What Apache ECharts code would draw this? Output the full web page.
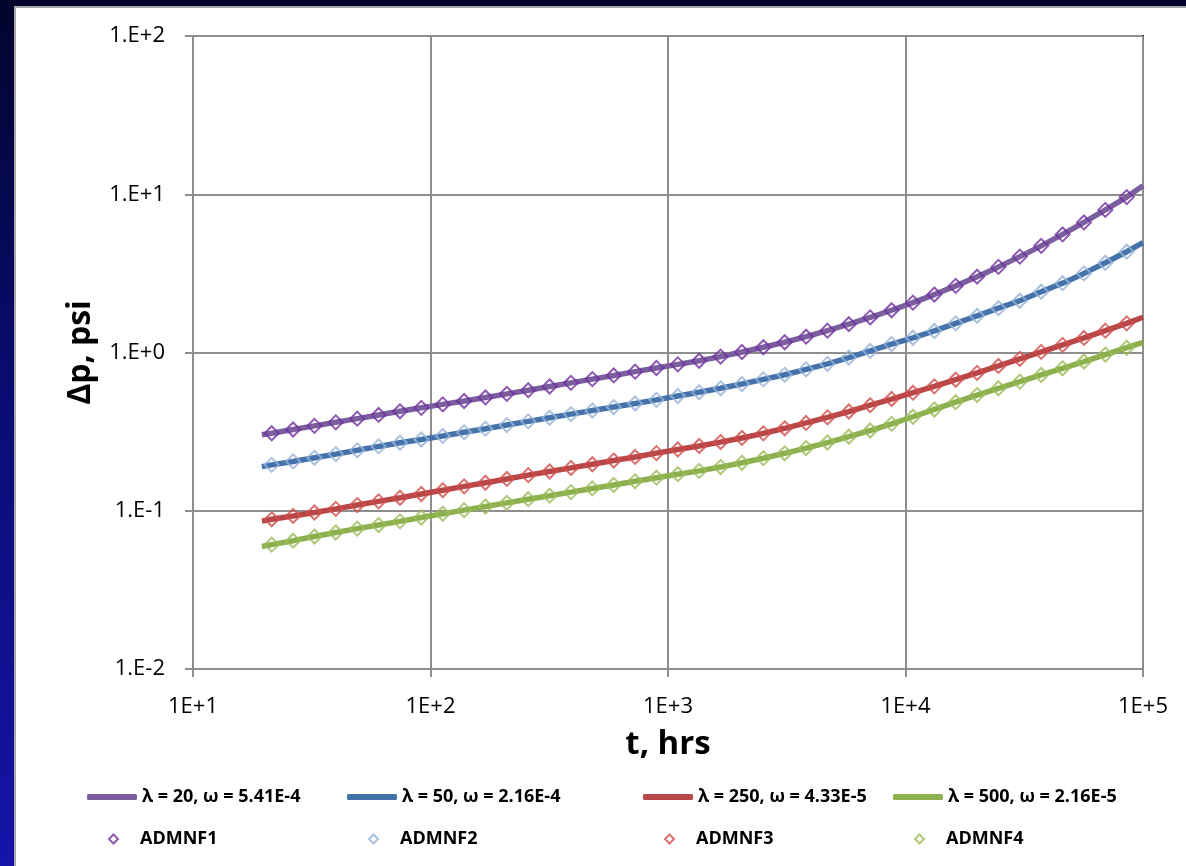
<!DOCTYPE html>
<html>
<head>
<meta charset="utf-8">
<script src="https://cdn.jsdelivr.net/npm/echarts@6/dist/echarts.min.js"></script>
<style>
  html, body { margin: 0; padding: 0; width: 1186px; height: 866px; overflow: hidden; }
  #wrap { position: absolute; left: 0; top: 0; width: 1186px; height: 866px;
          background: linear-gradient(to bottom, #02042c 0%, #0a0c72 45%, #1414a8 100%); }
  #panel { position: absolute; left: 14px; top: 6px; width: 1172px; height: 860px;
           background: #ffffff; border-left: 2px solid #a8a8a8; border-top: 2px solid #a8a8a8; box-sizing: border-box; }
  #chart { position: absolute; left: 0; top: 0; width: 1186px; height: 866px; }
</style>
</head>
<body>
<div id="wrap"><div id="panel"></div><div id="chart"></div></div>
<script>
// ---- data ----
const xTickLabels = ['1E+1', '1E+2', '1E+3', '1E+4', '1E+5'];
const yTickLabels = ['1.E-2', '1.E-1', '1.E+0', '1.E+1', '1.E+2'];

const lineNames = ['λ = 20, ω = 5.41E-4', 'λ = 50, ω = 2.16E-4', 'λ = 250, ω = 4.33E-5', 'λ = 500, ω = 2.16E-5'];
const markerNames = ['ADMNF1', 'ADMNF2', 'ADMNF3', 'ADMNF4'];

// time of each ADMNF point, hrs
const tMarkers = [21.45, 26.39, 32.47, 39.94, 49.14, 60.46, 74.38, 91.51, 112.6, 138.5,
  170.4, 209.6, 257.9, 317.3, 390.3, 480.2, 590.8, 726.8, 894.2, 1100,
  1353, 1665, 2048, 2520, 3100, 3814, 4692, 5773, 7102, 8737,
  10750, 13225, 16270, 20017, 24626, 30296, 37273, 45856, 56415, 69406, 85388];

const admnf1 = [0.309, 0.326, 0.344, 0.362, 0.382, 0.403, 0.425, 0.447, 0.470, 0.494,
  0.520, 0.548, 0.578, 0.610, 0.643, 0.679, 0.716, 0.757, 0.798, 0.841,
  0.887, 0.942, 1.007, 1.079, 1.161, 1.259, 1.374, 1.510, 1.667, 1.849,
  2.065, 2.323, 2.636, 3.013, 3.475, 4.036, 4.721, 5.572, 6.637, 7.962, 9.594];
const admnf2 = [0.195, 0.205, 0.216, 0.228, 0.241, 0.255, 0.269, 0.282, 0.297, 0.313,
  0.330, 0.348, 0.367, 0.387, 0.408, 0.430, 0.452, 0.476, 0.502, 0.531,
  0.561, 0.594, 0.632, 0.676, 0.723, 0.782, 0.847, 0.929, 1.023, 1.130,
  1.239, 1.368, 1.528, 1.706, 1.905, 2.123, 2.421, 2.742, 3.162, 3.690, 4.335];
const admnf3 = [0.0883, 0.0927, 0.0975, 0.1028, 0.1086, 0.1146, 0.1208, 0.1276, 0.1349, 0.1426,
  0.1503, 0.1589, 0.1679, 0.1770, 0.1866, 0.1968, 0.2075, 0.2188, 0.2312, 0.2438,
  0.2564, 0.2716, 0.2884, 0.3083, 0.3319, 0.3589, 0.3890, 0.4236, 0.4645, 0.5082,
  0.5571, 0.6109, 0.6730, 0.7430, 0.8222, 0.9120, 1.009, 1.117, 1.236, 1.374, 1.528];
const admnf4 = [0.0611, 0.0647, 0.0687, 0.0729, 0.0771, 0.0813, 0.0857, 0.0906, 0.0957, 0.1009,
  0.1064, 0.1122, 0.1183, 0.1245, 0.1312, 0.1384, 0.1455, 0.1535, 0.1618, 0.1702,
  0.1786, 0.1888, 0.2009, 0.2148, 0.2307, 0.2489, 0.2698, 0.2938, 0.3214, 0.3540,
  0.3926, 0.4365, 0.4853, 0.5383, 0.5943, 0.6546, 0.7211, 0.7943, 0.8770, 0.9705, 1.072];

// model curves: start and end of each line (the lines run through the ADMNF points)
const tLineStart = 19.5;
const tLineEnd = 100000;
const lineStart = [0.302, 0.190, 0.086, 0.0595];
const lineEnd = [11.3, 4.95, 1.67, 1.16];

// ---- styling ----
const lineColors = ['#7a5e9e', '#4572aa', '#b84747', '#8db04f'];
const markerColors = ['#7030a0', '#95b3d7', '#d24d4b', '#9bbb59'];
const FONT = '"Open Sans", "Liberation Sans", sans-serif';

const markerSets = [admnf1, admnf2, admnf3, admnf4];
const series = [];
lineNames.forEach((name, i) => {
  const data = [[tLineStart, lineStart[i]]];
  tMarkers.forEach((t, k) => data.push([t, markerSets[i][k]]));
  data.push([tLineEnd, lineEnd[i]]);
  series.push({
    name, type: 'line', data, showSymbol: false, symbol: 'none', smooth: false,
    lineStyle: { color: lineColors[i], width: 5.5 }, itemStyle: { color: lineColors[i] },
    z: 2, silent: true, clip: true
  });
});
markerNames.forEach((name, i) => {
  series.push({
    name, type: 'scatter', symbol: 'diamond', symbolSize: 14,
    data: tMarkers.map((t, k) => [t, markerSets[i][k]]),
    itemStyle: { color: 'rgba(255,255,255,0)', borderColor: markerColors[i], borderWidth: 2 },
    z: 3, silent: true
  });
});

const colLeft = [87, 347, 643, 893];
const legends = [];
lineNames.forEach((name, i) => {
  legends.push({
    data: [name], left: colLeft[i], top: 787, padding: 0, selectedMode: false,
    icon: 'roundRect', itemWidth: 50, itemHeight: 6,
    itemStyle: { color: lineColors[i] },
    textStyle: { fontFamily: FONT, fontWeight: 'bold', fontSize: 18, color: '#000', lineHeight: 20 }
  });
});
markerNames.forEach((name, i) => {
  legends.push({
    data: [name], left: colLeft[i] + 21, top: 829, padding: 0, selectedMode: false,
    itemWidth: 9, itemHeight: 9,
    textStyle: { fontFamily: FONT, fontWeight: 'bold', fontSize: 18, color: '#000', lineHeight: 20,
                 padding: [0, 0, 0, 17] }
  });
});

const gridColor = '#8e8e8e';
const chart = echarts.init(document.getElementById('chart'), null, { renderer: 'canvas' });
chart.setOption({
  backgroundColor: 'transparent',
  animation: false,
  grid: { left: 193, top: 36, right: 43, bottom: 197, show: true,
          backgroundColor: '#ffffff', borderColor: '#000', borderWidth: 2 },
  xAxis: {
    type: 'log', logBase: 10, min: 10, max: 100000,
    name: 't, hrs', nameLocation: 'middle', nameGap: 59,
    nameTextStyle: { fontFamily: FONT, fontWeight: 'bold', fontSize: 33, color: '#000' },
    axisLine: { show: true, lineStyle: { color: gridColor, width: 2 } },
    axisTick: { show: true, inside: false, length: 8, lineStyle: { color: gridColor, width: 2 } },
    minorTick: { show: false },
    splitLine: { show: true, lineStyle: { color: gridColor, width: 2 } },
    axisLabel: { margin: 27, fontFamily: FONT, fontSize: 22, color: '#000',
      formatter: v => xTickLabels[Math.round(Math.log10(v)) - 1] }
  },
  yAxis: {
    type: 'log', logBase: 10, min: 0.01, max: 100,
    name: 'Δp, psi', nameLocation: 'middle', nameGap: 96, nameRotate: 90,
    nameTextStyle: { fontFamily: FONT, fontWeight: 'bold', fontSize: 32, color: '#000' },
    axisLine: { show: true, lineStyle: { color: gridColor, width: 2 } },
    axisTick: { show: true, inside: false, length: 8, lineStyle: { color: gridColor, width: 2 } },
    minorTick: { show: false },
    splitLine: { show: true, lineStyle: { color: gridColor, width: 2 } },
    axisLabel: { margin: 28, fontFamily: FONT, fontSize: 22, color: '#000',
      formatter: v => yTickLabels[Math.round(Math.log10(v)) + 2] }
  },
  legend: legends,
  series
});
</script>
</body>
</html>
